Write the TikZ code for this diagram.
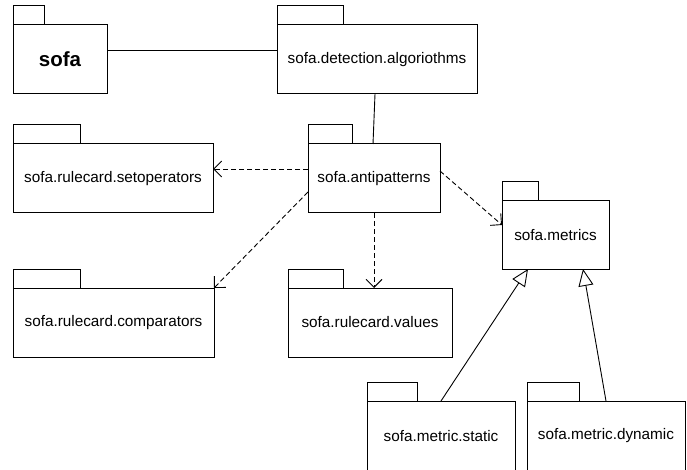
\documentclass[tikz,border=0pt]{standalone}
\usepackage{fontspec}
\setmainfont{Liberation Sans}
\usetikzlibrary{arrows.meta}
\tikzset{
  pkg/.style={draw, line width=1pt, inner sep=0pt, outer sep=0pt, anchor=north west, font=\fontsize{15.3}{18}\selectfont},
  pkgbig/.style={font=\fontsize{20.5}{24}\selectfont\bfseries},
  tabline/.style={draw, line width=1pt},
  assoc/.style={line width=0.9pt},
  dep/.style={line width=0.9pt, dash pattern=on 5pt off 3pt, -{Straight Barb[length=8pt,width=16pt]}},
  gen/.style={line width=0.9pt, -{Triangle[open,length=17pt,width=15pt,fill=white]}},
}
\newcommand{\pkgtab}[2]{\draw[tabline] (#1.north west) rectangle ++(#2,-19);}

\begin{document}
\begin{tikzpicture}[x=1pt,y=-1pt]
\useasboundingbox[fill=white] (0,0) rectangle (687,470);
\node[pkg, pkgbig, minimum width=94, minimum height=69] (sofa) at (13,25) {sofa};
\node[pkg, minimum width=200, minimum height=69] (detect) at (277,25) {sofa.detection.algoriothms};
\node[pkg, minimum width=200, minimum height=69] (setops) at (13,144) {sofa.rulecard.setoperators};
\node[pkg, minimum width=132, minimum height=69] (anti) at (308,144) {sofa.antipatterns};
\node[pkg, minimum width=107, minimum height=68] (metrics) at (502,201) {sofa.metrics};
\node[pkg, minimum width=201, minimum height=69] (comps) at (13,288) {sofa.rulecard.comparators};
\node[pkg, minimum width=164, minimum height=69] (values) at (288,288) {sofa.rulecard.values};
\node[pkg, minimum width=148, minimum height=70] (mstatic) at (367,401) {sofa.metric.static};
\node[pkg, minimum width=158, minimum height=70] (mdynamic) at (527,401) {sofa.metric.dynamic};
\pkgtab{sofa}{31} \pkgtab{detect}{66} \pkgtab{setops}{67}
\pkgtab{anti}{44} \pkgtab{metrics}{36} \pkgtab{comps}{67}
\pkgtab{values}{55} \pkgtab{mstatic}{50} \pkgtab{mdynamic}{52}
\draw[assoc] ([yshift=9.5pt]sofa.east) -- ([yshift=9.5pt]detect.west);
\draw[assoc] ([xshift=-2pt]detect.south) -- ([xshift=-1pt]anti.north);
\draw[dep] ([yshift=9.5pt]anti.west) -- ([yshift=9.5pt]setops.east);
\draw[dep] ([yshift=-13.5pt]anti.west) -- (comps.north east);
\draw[dep] (anti.south) -- (anti.south |- values.north);
\draw[dep] ([yshift=7.5pt]anti.east) -- ([yshift=10pt]metrics.west);
\draw[gen] (mstatic.north) -- ([xshift=-27.5pt]metrics.south);
\draw[gen] (mdynamic.north) -- ([xshift=27.5pt]metrics.south);
\end{tikzpicture}
\end{document}
